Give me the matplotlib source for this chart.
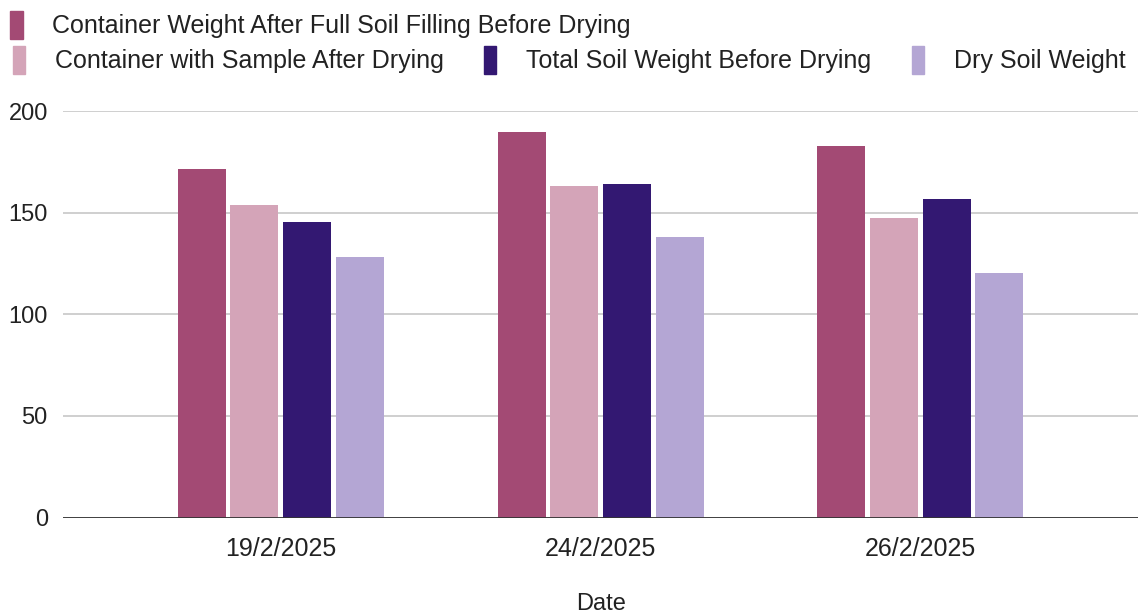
import numpy as np
import matplotlib
matplotlib.use('Agg')
import matplotlib.pyplot as plt
import matplotlib.patches as mpatches

plt.rcParams['font.family'] = ['Liberation Sans', 'DejaVu Sans']

# ---------------------------------------------------------------------------
# Data
# ---------------------------------------------------------------------------
dates = ['19/2/2025', '24/2/2025', '26/2/2025']
series = [
    'Container Weight After Full Soil Filling Before Drying',
    'Container with Sample After Drying',
    'Total Soil Weight Before Drying',
    'Dry Soil Weight',
]
container_full = [171.3, 189.8, 182.6]
container_dry = [153.6, 163.0, 147.5]
soil_before = [145.4, 164.1, 156.9]
soil_dry = [128.0, 138.2, 120.4]
yticks = [0, 50, 100, 150, 200]

colors = ['#a34a74', '#d4a4b8', '#331872', '#b4a6d4']

# ---------------------------------------------------------------------------
# Plot
# ---------------------------------------------------------------------------
fig = plt.figure(figsize=(11.42, 6.15), dpi=100)
ax = fig.add_axes([0.0552, 0.1585, 0.9413, 0.661])

x = np.arange(len(dates))
width = 0.15
pitch = 0.1646
values = [container_full, container_dry, soil_before, soil_dry]
for k, (vals, col) in enumerate(zip(values, colors)):
    ax.bar(x + (k - 1.5) * pitch, vals, width, color=col, zorder=3)

ax.set_xlim(-0.68, 2.68)
ax.set_ylim(0, 200)
ax.set_yticks(yticks)
ax.set_xticks(x)
ax.set_xticklabels(dates)
ax.grid(axis='y', color='#cccccc', linewidth=1.3, zorder=0)
ax.axhline(0, color='#333333', linewidth=2, zorder=4)
for s in ax.spines.values():
    s.set_visible(False)
ax.tick_params(axis='both', length=0, colors='#222222')
ax.tick_params(axis='x', labelsize=18, pad=14)
ax.tick_params(axis='y', labelsize=17, pad=11)
fig.text(0.526, (615 - 604) / 615, 'Date', fontsize=17, color='#222222',
         ha='center', va='center')

# Legend: first entry on its own row, then three on the second row
handles = [mpatches.FancyBboxPatch((0, 0), 1, 1, boxstyle='round,pad=0,rounding_size=2',
                                   color=c) for c in colors]
leg_kw = dict(frameon=False, fontsize=18, handlelength=0.5, handleheight=1.4,
              borderaxespad=0, borderpad=0, labelcolor='#222222')
leg1 = fig.legend(handles[:1], series[:1], loc='center left', handletextpad=1.15,
                  bbox_to_anchor=(0.009, (615 - 25) / 615), **leg_kw)
leg2 = fig.legend(handles[1:], series[1:], loc='center left', ncol=3,
                  handletextpad=1.2, columnspacing=1.6,
                  bbox_to_anchor=(0.011, (615 - 60) / 615), **leg_kw)

fig.savefig('out.png', dpi=100)
